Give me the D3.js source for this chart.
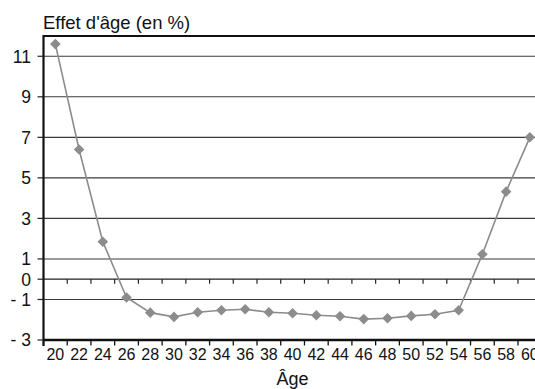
<!DOCTYPE html>
<html>
<head>
<meta charset="utf-8">
<script src="https://cdn.jsdelivr.net/npm/d3@7"></script>
<style>
  html, body { margin: 0; padding: 0; background: #fff; }
  svg { display: block; font-family: "Liberation Sans", Arial, sans-serif; }
</style>
</head>
<body>
<svg id="chart" width="535" height="389"></svg>
<script>
const ages = [20, 22, 24, 26, 28, 30, 32, 34, 36, 38, 40, 42, 44, 46, 48, 50, 52, 54, 56, 58, 60];
const effet = [11.6, 6.4, 1.85, -0.9, -1.65, -1.86, -1.63, -1.53, -1.48, -1.63, -1.68, -1.78, -1.83, -1.97, -1.93, -1.81, -1.73, -1.53, 1.23, 4.32, 7.0];
const yTicks = [11, 9, 7, 5, 3, 1, 0, -1, -3];
const yTickLabels = ["11", "9", "7", "5", "3", "1", "0", "- 1", "- 3"];
const gridValues = [11, 9, 7, 5, 3, 1, -1];
const titleText = "Effet d'âge (en %)";
const xTitle = "Âge";

(function () {
const svg = d3.select("#chart");
const pLeft = 43.5, pRight = 541.7, pTop = 36, pBottom = 340;

const x = d3.scaleBand().domain(ages.map(String)).range([pLeft, pRight]).padding(0);
const y = d3.scaleLinear().domain([-3, 12]).range([pBottom, pTop]);

// gridlines
svg.append("g").selectAll("line").data(gridValues).join("line")
  .attr("x1", pLeft).attr("x2", pRight)
  .attr("y1", d => y(d)).attr("y2", d => y(d))
  .attr("stroke", "#3a3a3a").attr("stroke-width", 1.1);

// zero line with ticks
svg.append("line").attr("x1", pLeft).attr("x2", pRight)
  .attr("y1", y(0)).attr("y2", y(0))
  .attr("stroke", "#222").attr("stroke-width", 1.2);
const boundaries = ages.map(a => x(String(a))).concat([x.range()[1]]);
svg.append("g").selectAll("line").data(boundaries.slice(1)).join("line")
  .attr("x1", d => d).attr("x2", d => d)
  .attr("y1", y(0)).attr("y2", y(0) + 4.5)
  .attr("stroke", "#222").attr("stroke-width", 1.2);

// top frame
svg.append("line").attr("x1", pLeft).attr("x2", pRight)
  .attr("y1", pTop).attr("y2", pTop)
  .attr("stroke", "#111").attr("stroke-width", 2);

// bottom axis line + ticks
svg.append("line").attr("x1", pLeft).attr("x2", pRight)
  .attr("y1", pBottom).attr("y2", pBottom)
  .attr("stroke", "#111").attr("stroke-width", 2.5);
svg.append("g").selectAll("line").data(boundaries).join("line")
  .attr("x1", d => d).attr("x2", d => d)
  .attr("y1", pBottom).attr("y2", pBottom + 5.5)
  .attr("stroke", "#111").attr("stroke-width", 1.3);

// x labels
svg.append("g").selectAll("text").data(ages).join("text")
  .attr("x", d => x(String(d)) + x.bandwidth() / 2)
  .attr("y", 360)
  .attr("text-anchor", "middle")
  .attr("font-size", 16)
  .attr("fill", "#111")
  .text(d => d);

// y axis line
svg.append("line").attr("x1", pLeft).attr("x2", pLeft)
  .attr("y1", pTop - 1).attr("y2", pBottom + 6)
  .attr("stroke", "#111").attr("stroke-width", 2.2);

// y ticks + labels
svg.append("g").selectAll("line").data(yTicks).join("line")
  .attr("x1", pLeft - 6).attr("x2", pLeft)
  .attr("y1", d => y(d)).attr("y2", d => y(d))
  .attr("stroke", "#222").attr("stroke-width", 1.2);
svg.append("g").selectAll("text").data(yTicks).join("text")
  .attr("x", 31)
  .attr("y", d => y(d))
  .attr("dy", "0.36em")
  .attr("text-anchor", "end")
  .attr("font-size", 17.5)
  .attr("fill", "#111")
  .text((d, i) => yTickLabels[i]);

// series line
const line = d3.line()
  .x((d, i) => x(String(ages[i])) + x.bandwidth() / 2)
  .y(d => y(d));
svg.append("path").datum(effet)
  .attr("d", line)
  .attr("fill", "none")
  .attr("stroke", "#8c8c8c")
  .attr("stroke-width", 1.6);

// diamonds
const sym = d3.symbol(d3.symbolSquare, 56);
svg.append("g").selectAll("path").data(effet).join("path")
  .attr("d", sym)
  .attr("transform", (d, i) => `translate(${x(String(ages[i])) + x.bandwidth() / 2},${y(d)}) rotate(45)`)
  .attr("fill", "#8c8c8c");

// titles
svg.append("text").attr("x", 43).attr("y", 29)
  .attr("font-size", 18.5).attr("fill", "#111")
  .text(titleText);
svg.append("text").attr("x", (pLeft + pRight) / 2).attr("y", 385)
  .attr("text-anchor", "middle")
  .attr("font-size", 18).attr("fill", "#111")
  .text(xTitle);
})();
</script>
</body>
</html>
